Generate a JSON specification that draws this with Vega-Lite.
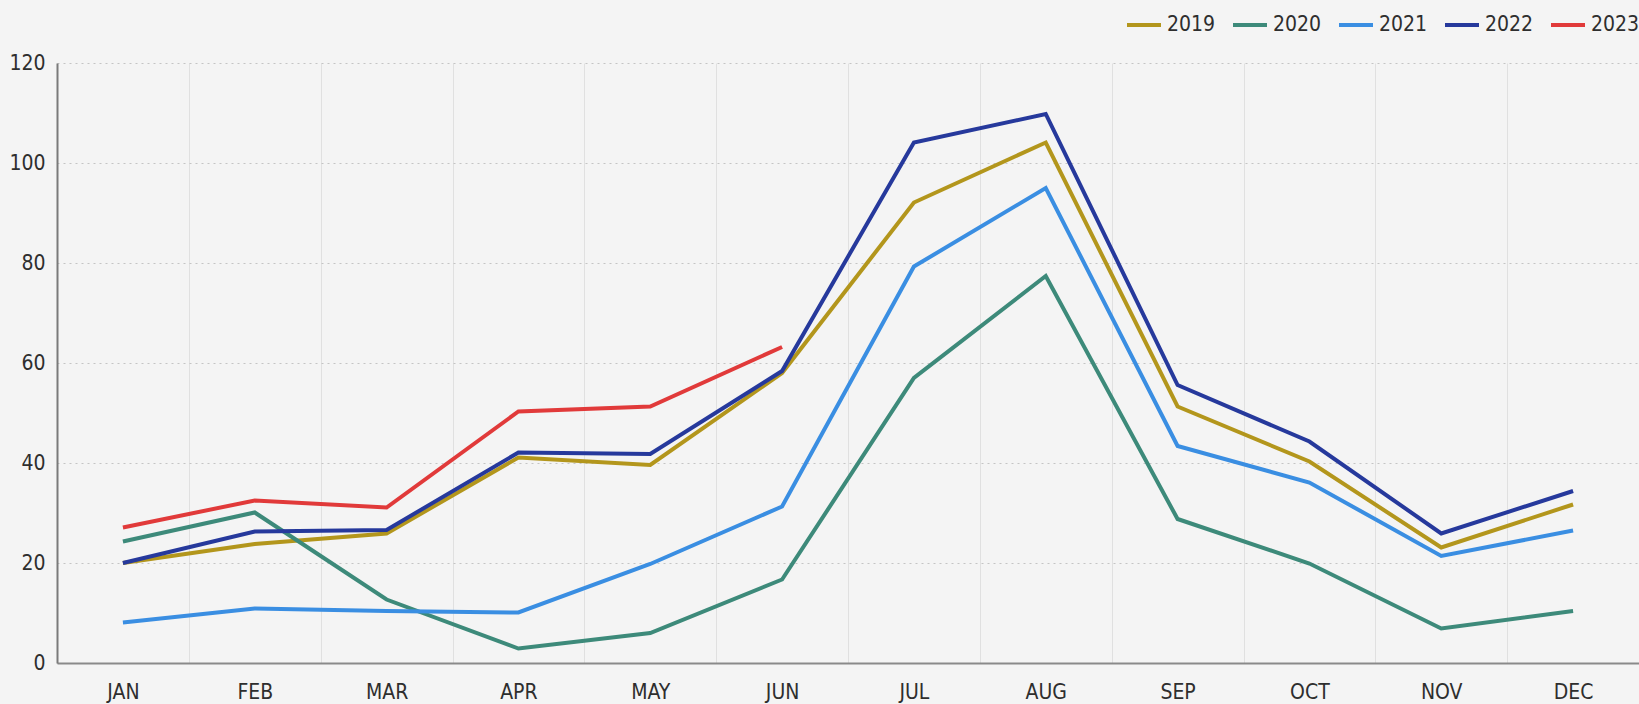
{
  "$schema": "https://vega.github.io/schema/vega-lite/v6.json",
  "width": 1582,
  "height": 600,
  "autosize": {"type": "none"},
  "padding": {"left": 57, "top": 63, "right": 0, "bottom": 41},
  "background": "#f4f4f4",
  "config": {
    "view": {"stroke": null},
    "font": "'DejaVu Sans Condensed', Roboto, sans-serif",
    "axis": {"labelFont": "'DejaVu Sans Condensed', Roboto, sans-serif", "labelFontSize": 21, "labelColor": "#2e2e2e"},
    "legend": {"labelFont": "'DejaVu Sans Condensed', Roboto, sans-serif", "labelFontSize": 21, "labelColor": "#2e2e2e"}
  },
  "data": {
    "values": [
      {"month": "JAN", "year": "2019", "value": 20.0},
      {"month": "FEB", "year": "2019", "value": 23.8},
      {"month": "MAR", "year": "2019", "value": 25.9},
      {"month": "APR", "year": "2019", "value": 41.1},
      {"month": "MAY", "year": "2019", "value": 39.6},
      {"month": "JUN", "year": "2019", "value": 58.0},
      {"month": "JUL", "year": "2019", "value": 92.1},
      {"month": "AUG", "year": "2019", "value": 104.1},
      {"month": "SEP", "year": "2019", "value": 51.3},
      {"month": "OCT", "year": "2019", "value": 40.3},
      {"month": "NOV", "year": "2019", "value": 23.1},
      {"month": "DEC", "year": "2019", "value": 31.7},
      {"month": "JAN", "year": "2020", "value": 24.3},
      {"month": "FEB", "year": "2020", "value": 30.1},
      {"month": "MAR", "year": "2020", "value": 12.7},
      {"month": "APR", "year": "2020", "value": 2.9},
      {"month": "MAY", "year": "2020", "value": 6.0},
      {"month": "JUN", "year": "2020", "value": 16.7},
      {"month": "JUL", "year": "2020", "value": 57.0},
      {"month": "AUG", "year": "2020", "value": 77.4},
      {"month": "SEP", "year": "2020", "value": 28.8},
      {"month": "OCT", "year": "2020", "value": 19.9},
      {"month": "NOV", "year": "2020", "value": 6.9},
      {"month": "DEC", "year": "2020", "value": 10.4},
      {"month": "JAN", "year": "2021", "value": 8.1},
      {"month": "FEB", "year": "2021", "value": 10.9},
      {"month": "MAR", "year": "2021", "value": 10.4},
      {"month": "APR", "year": "2021", "value": 10.1},
      {"month": "MAY", "year": "2021", "value": 19.8},
      {"month": "JUN", "year": "2021", "value": 31.3},
      {"month": "JUL", "year": "2021", "value": 79.3},
      {"month": "AUG", "year": "2021", "value": 95.0},
      {"month": "SEP", "year": "2021", "value": 43.4},
      {"month": "OCT", "year": "2021", "value": 36.1},
      {"month": "NOV", "year": "2021", "value": 21.4},
      {"month": "DEC", "year": "2021", "value": 26.5},
      {"month": "JAN", "year": "2022", "value": 20.0},
      {"month": "FEB", "year": "2022", "value": 26.3},
      {"month": "MAR", "year": "2022", "value": 26.6},
      {"month": "APR", "year": "2022", "value": 42.1},
      {"month": "MAY", "year": "2022", "value": 41.8},
      {"month": "JUN", "year": "2022", "value": 58.4},
      {"month": "JUL", "year": "2022", "value": 104.1},
      {"month": "AUG", "year": "2022", "value": 109.8},
      {"month": "SEP", "year": "2022", "value": 55.6},
      {"month": "OCT", "year": "2022", "value": 44.3},
      {"month": "NOV", "year": "2022", "value": 25.9},
      {"month": "DEC", "year": "2022", "value": 34.4},
      {"month": "JAN", "year": "2023", "value": 27.1},
      {"month": "FEB", "year": "2023", "value": 32.5},
      {"month": "MAR", "year": "2023", "value": 31.1},
      {"month": "APR", "year": "2023", "value": 50.3},
      {"month": "MAY", "year": "2023", "value": 51.3},
      {"month": "JUN", "year": "2023", "value": 63.2}
    ]
  },
  "mark": {"type": "line", "strokeWidth": 4, "strokeJoin": "miter"},
  "encoding": {
    "x": {
      "field": "month",
      "type": "ordinal",
      "sort": ["JAN", "FEB", "MAR", "APR", "MAY", "JUN", "JUL", "AUG", "SEP", "OCT", "NOV", "DEC"],
      "bandPosition": 0.5,
      "scale": {"type": "band", "paddingInner": 0, "paddingOuter": 0},
      "axis": {
        "title": null,
        "labelAngle": 0,
        "ticks": false,
        "tickBand": "extent",
        "grid": true,
        "gridColor": "#e0e0e0",
        "gridWidth": 1,
        "domain": true,
        "domainColor": "#8a8a8a",
        "domainWidth": 2,
        "labelPadding": 18,
        "labelBaseline": "top"
      }
    },
    "y": {
      "field": "value",
      "type": "quantitative",
      "scale": {"domain": [0, 120], "nice": false},
      "axis": {
        "title": null,
        "values": [0, 20, 40, 60, 80, 100, 120],
        "ticks": false,
        "grid": true,
        "gridColor": "#c4c4c4",
        "gridDash": [2, 4],
        "gridWidth": 1.2,
        "domain": true,
        "domainColor": "#7a7a7a",
        "domainWidth": 2,
        "labelPadding": 12
      }
    },
    "color": {
      "field": "year",
      "type": "nominal",
      "scale": {
        "domain": ["2019", "2020", "2021", "2022", "2023"],
        "range": ["#b3961c", "#3d8a7a", "#3a8ee2", "#26399c", "#e13a3a"]
      },
      "legend": {
        "title": null,
        "orient": "none",
        "direction": "horizontal",
        "legendX": 1068,
        "legendY": -57,
        "symbolType": "stroke",
        "symbolSize": 1156,
        "symbolStrokeWidth": 4,
        "labelOffset": 4,
        "columnPadding": 9
      }
    }
  }
}
